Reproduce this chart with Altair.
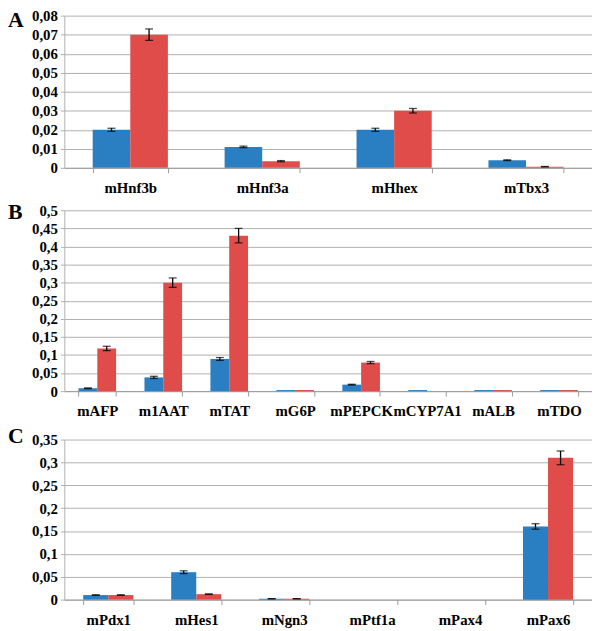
import altair as alt
import pandas as pd

# Panel A
genes_a = ["mHnf3b", "mHnf3a", "mHhex", "mTbx3"]
blue_a = [0.020, 0.011, 0.020, 0.004]
red_a = [0.070, 0.0035, 0.030, 0.0006]
blue_err_a = [0.0008, 0.0004, 0.0008, 0.0002]
red_err_a = [0.003, 0.0003, 0.0012, 0.0001]
ticks_a = [0, 0.01, 0.02, 0.03, 0.04, 0.05, 0.06, 0.07, 0.08]

# Panel B
genes_b = ["mAFP", "m1AAT", "mTAT", "mG6P", "mPEPCK", "mCYP7A1", "mALB", "mTDO"]
blue_b = [0.008, 0.038, 0.089, 0.003, 0.018, 0.003, 0.003, 0.003]
red_b = [0.118, 0.300, 0.430, 0.003, 0.079, 0.0, 0.003, 0.003]
blue_err_b = [0.001, 0.003, 0.004, 0.0, 0.001, 0.0, 0.0, 0.0]
red_err_b = [0.006, 0.013, 0.020, 0.0, 0.003, 0.0, 0.0, 0.0]
ticks_b = [0, 0.05, 0.1, 0.15, 0.2, 0.25, 0.3, 0.35, 0.4, 0.45, 0.5]

# Panel C
genes_c = ["mPdx1", "mHes1", "mNgn3", "mPtf1a", "mPax4", "mPax6"]
blue_c = [0.010, 0.060, 0.002, 0.0, 0.0, 0.160]
red_c = [0.010, 0.012, 0.002, 0.0, 0.0, 0.310]
blue_err_c = [0.0005, 0.003, 0.0002, 0.0, 0.0, 0.006]
red_err_c = [0.0005, 0.0006, 0.0002, 0.0, 0.0, 0.015]
ticks_c = [0, 0.05, 0.1, 0.15, 0.2, 0.25, 0.3, 0.35]

series = ["s1", "s2"]
colors = ["#2A7EC2", "#DF4C4A"]
FONT = "Liberation Serif"


def panel(letter, genes, blue, red, berr, rerr, ticks, height, letter_y):
    rows = []
    for g, b, r, eb, er in zip(genes, blue, red, berr, rerr):
        rows.append({"gene": g, "series": series[0], "v": b, "e": eb})
        rows.append({"gene": g, "series": series[1], "v": r, "e": er})
    df = pd.DataFrame(rows)
    df["lo"] = df["v"] - df["e"]
    df["hi"] = df["v"] + df["e"]
    ymax = ticks[-1]

    x = alt.X("gene:N", sort=genes, title=None,
              scale=alt.Scale(paddingInner=0.43, paddingOuter=0.215),
              axis=alt.Axis(labelAngle=0, tickBand="extent", labelFont=FONT,
                            labelFontWeight="bold", labelFontSize=15,
                            labelColor="black", domainColor="#9a9a9a",
                            tickColor="#9a9a9a", tickSize=5, labelPadding=8,
                            labelOverlap=False, grid=False))
    xo = alt.XOffset("series:N", sort=series)
    y_axis = alt.Axis(values=ticks, grid=True, gridColor="#b0b0b0",
                      domainColor="#b0b0b0", tickColor="#b0b0b0", tickSize=4,
                      labelFont=FONT, labelFontWeight="bold", labelFontSize=15,
                      labelColor="black", labelPadding=3, labelOverlap=False,
                      labelExpr="replace(format(datum.value, '.2~f'), '.', ',')")
    yscale = alt.Scale(domain=[0, ymax], nice=False)

    base = alt.Chart(df)
    bars = base.mark_bar().encode(
        x=x, xOffset=xo,
        y=alt.Y("v:Q", scale=yscale, axis=y_axis, title=None),
        color=alt.Color("series:N", scale=alt.Scale(domain=series, range=colors), legend=None),
    )
    err = base.transform_filter("datum.e > 0").mark_rule(color="black", strokeWidth=1.3).encode(
        x=x, xOffset=xo, y=alt.Y("lo:Q", scale=yscale, axis=y_axis, title=None), y2="hi:Q")
    cap_lo = base.transform_filter("datum.e > 0").mark_tick(
        color="black", thickness=1.3, size=8, orient="horizontal").encode(
        x=x, xOffset=xo, y=alt.Y("lo:Q", scale=yscale, axis=y_axis, title=None))
    cap_hi = base.transform_filter("datum.e > 0").mark_tick(
        color="black", thickness=1.3, size=8, orient="horizontal").encode(
        x=x, xOffset=xo, y=alt.Y("hi:Q", scale=yscale, axis=y_axis, title=None))
    lab = alt.Chart(pd.DataFrame({"t": [letter]})).mark_text(
        font=FONT, fontWeight="bold", fontSize=22, align="left", baseline="top",
        color="black").encode(text="t:N", x=alt.value(-57), y=alt.value(letter_y))
    return alt.layer(bars, err, cap_lo, cap_hi, lab).properties(width=534, height=height)


pa = panel("A", genes_a, blue_a, red_a, blue_err_a, red_err_a, ticks_a, 154, -6)
pb = panel("B", genes_b, blue_b, red_b, blue_err_b, red_err_b, ticks_b, 183, -8)
pc = panel("C", genes_c, blue_c, red_c, blue_err_c, red_err_c, ticks_c, 162, -14)

chart = alt.vconcat(pa, pb, pc, spacing=6).resolve_scale(
    x="independent", xOffset="independent", y="independent"
).properties(
    padding={"left": 0, "top": -3, "right": 0, "bottom": 0}
).configure_view(stroke=None)

chart.save("out.html", embed_options={"renderer": "svg", "actions": False})
